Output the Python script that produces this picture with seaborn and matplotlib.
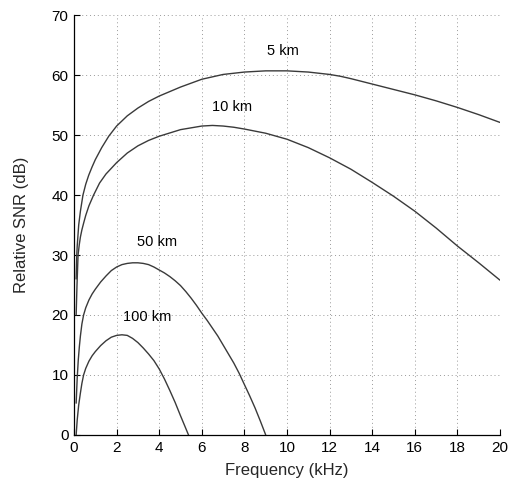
import numpy as np
import pandas as pd
import matplotlib
matplotlib.use("Agg")
import matplotlib.pyplot as plt
import seaborn as sns

# values (frequency in kHz, relative SNR in dB)
freq_5km = [0.1, 0.13, 0.15, 0.22, 0.3, 0.42, 0.55, 0.69, 0.85, 1.0, 1.3, 1.63,
            2, 2.5, 3, 3.5, 4, 5, 6, 7, 8, 9, 10, 11, 11.5, 12, 12.5, 13, 14,
            15, 16, 17, 18, 19, 20]
snr_5km = [26, 30, 31.5, 35, 37.3, 40, 41.8, 43.3, 44.7, 45.9, 47.9, 49.8,
           51.5, 53.2, 54.5, 55.6, 56.5, 58.0, 59.3, 60.1, 60.5, 60.7, 60.7,
           60.5, 60.3, 60.1, 59.8, 59.4, 58.5, 57.6, 56.7, 55.7, 54.6, 53.4,
           52.1]

freq_10km = [0.1, 0.14, 0.19, 0.25, 0.3, 0.37, 0.45, 0.55, 0.7, 0.92, 1.2, 1.5,
             2, 2.5, 3, 3.5, 4, 5, 6, 6.5, 7, 7.5, 8, 9, 10, 11, 12, 13, 14, 15,
             16, 17, 18, 19, 20]
snr_10km = [20, 25, 30, 31.8, 33, 34.2, 35.3, 36.6, 38.2, 40, 42, 43.5, 45.4,
            47, 48.2, 49.1, 49.8, 50.9, 51.5, 51.6, 51.5, 51.3, 51.0, 50.3,
            49.3, 47.9, 46.2, 44.3, 42.1, 39.8, 37.3, 34.5, 31.5, 28.7, 25.8]

freq_50km = [0.1, 0.15, 0.2, 0.25, 0.3, 0.37, 0.45, 0.55, 0.7, 0.85, 1.0, 1.25,
             1.5, 1.75, 2, 2.25, 2.5, 2.75, 3, 3.25, 3.5, 3.75, 4, 4.25, 4.5,
             4.75, 5, 5.25, 5.5, 5.75, 6, 6.25, 6.5, 6.75, 7, 7.25, 7.5, 7.75,
             8, 8.25, 8.5, 8.75, 9.0]
snr_50km = [5.3, 9.5, 12.5, 14.7, 16.5, 18.5, 20, 21.2, 22.5, 23.5, 24.3, 25.5,
            26.5, 27.4, 28.0, 28.4, 28.6, 28.7, 28.7, 28.6, 28.4, 28.0, 27.5,
            27.0, 26.4, 25.7, 24.9, 23.9, 22.8, 21.6, 20.3, 19.1, 17.8, 16.5,
            15.0, 13.5, 12.0, 10.3, 8.4, 6.5, 4.5, 2.3, 0]

freq_100km = [0.1, 0.15, 0.22, 0.3, 0.37, 0.45, 0.55, 0.7, 0.85, 1.0, 1.25, 1.5,
              1.75, 2, 2.25, 2.5, 2.75, 3, 3.25, 3.5, 3.75, 4, 4.25, 4.5, 4.75,
              5, 5.2, 5.375]
snr_100km = [0, 2.5, 5, 7, 8.6, 10, 11.1, 12.3, 13.2, 13.9, 14.9, 15.7, 16.3,
             16.6, 16.7, 16.6, 16.1, 15.4, 14.5, 13.5, 12.4, 11.0, 9.3, 7.4, 5.4,
             3.2, 1.5, 0]

labels = ["5 km", "10 km", "50 km", "100 km"]
label_pos = [(9.8, 64.0), (7.4, 54.7), (3.9, 32.2), (3.45, 19.7)]

frames = []
for name, f, s in zip(labels,
                      [freq_5km, freq_10km, freq_50km, freq_100km],
                      [snr_5km, snr_10km, snr_50km, snr_100km]):
    frames.append(pd.DataFrame({"freq": f, "snr": s, "dist": name}))
data = pd.concat(frames, ignore_index=True)

sns.set_theme(style="white")
plt.rcParams["font.family"] = ["Liberation Sans", "DejaVu Sans"]

fig = plt.figure(figsize=(5.08, 4.86), dpi=100)
ax = fig.add_axes([0.1457, 0.105, 0.8386, 0.864])

sns.lineplot(data=data, x="freq", y="snr", units="dist", estimator=None,
             color="#3a3a3a", linewidth=1.0, sort=False, ax=ax, legend=False)

for name, (x, y) in zip(labels, label_pos):
    ax.text(x, y, name, ha="center", va="center", fontsize=10.5, color="black")

ax.set_xlim(0, 20)
ax.set_ylim(0, 70)
ax.set_xticks(np.arange(0, 21, 2))
ax.set_yticks(np.arange(0, 71, 10))
ax.grid(True, linestyle=(0, (1, 3)), color="#999999", linewidth=0.7)
ax.set_axisbelow(True)

for side in ["top", "right"]:
    ax.spines[side].set_visible(False)
for side in ["left", "bottom"]:
    ax.spines[side].set_color("black")
    ax.spines[side].set_linewidth(0.9)

ax.tick_params(direction="in", length=4, width=0.8, colors="black",
               labelsize=11, left=True, bottom=True, pad=4)
ax.set_xlabel("Frequency (kHz)", fontsize=12, labelpad=6)
ax.set_ylabel("Relative SNR (dB)", fontsize=12, labelpad=16)

fig.savefig("out.png", dpi=100)
